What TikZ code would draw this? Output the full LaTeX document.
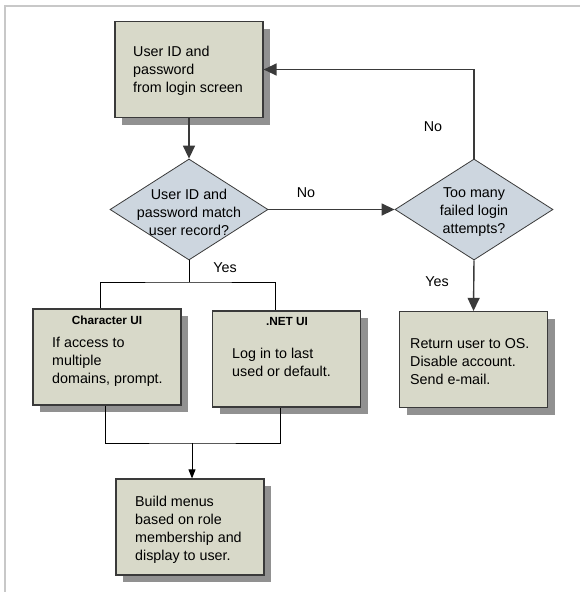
\documentclass[tikz,border=0pt]{standalone}
\usepackage{fontspec}
\setmainfont{Liberation Sans}
\usetikzlibrary{arrows.meta,shapes.geometric,shadows,calc}
\definecolor{boxfill}{HTML}{D8D9C9}
\definecolor{diafill}{HTML}{CDD6DF}
\definecolor{edge}{HTML}{3A3A3A}
\definecolor{frame}{HTML}{C8C8C8}
\begin{document}
\begin{tikzpicture}[x=1pt,y=-1pt,
  every node/.style={font=\fontsize{14.3}{18}\selectfont},
  procbox/.style={draw=edge,line width=1.2pt,fill=boxfill,minimum width=148pt,minimum height=96pt,inner sep=0pt,
    drop shadow={shadow xshift=7pt,shadow yshift=-7pt,fill=black!43,opacity=1}},
  decbox/.style={diamond,draw=edge,line width=0.8pt,fill=diafill,minimum width=158pt,minimum height=101pt,inner sep=0pt},
  body/.style={anchor=west,align=left,inner sep=0pt},
  dtext/.style={align=center,inner sep=0pt},
  title/.style={font=\fontsize{11.8}{14}\selectfont\bfseries,inner sep=0pt},
  lbl/.style={inner sep=0pt},
  flow/.style={draw=edge,line width=1.4pt,-{Triangle[length=13pt,width=12pt]}},
  branch/.style={draw=black,line width=0.9pt},
  smallflow/.style={draw=black,line width=0.9pt,-{Triangle[length=9pt,width=7pt]}}
]
\useasboundingbox (0,0) rectangle (580,592);
\draw[frame,line width=1.5pt] (5,592) -- (5,6) -- (580,6);

% boxes
\node[procbox] (login) at (189,69.5) {};
\node[body] (logintxt) at (133,71) {User ID and\\password\\from login screen};

\node[decbox] (match) at (189,209.5) {};
\node[dtext] (matchtxt) at (189,212) {User ID and\\password match\\user record?};

\node[decbox] (fail) at (474,209.5) {};
\node[dtext] (failtxt) at (474,212) {Too many\\failed login\\attempts?};

\node[procbox] (charui) at (107,357) {};
\node[title] (chartitle) at (107,320) {Character UI};
\node[body] (chartxt) at (52,362) {If access to\\multiple\\domains, prompt.};

\node[procbox] (netui) at (286.5,359) {};
\node[title] (nettitle) at (287,321) {.NET UI};
\node[body] (nettxt) at (232,362) {Log in to last\\used or default.};

\node[procbox] (ret) at (473.5,359.5) {};
\node[body] (rettxt) at (410,362) {Return user to OS.\\Disable account.\\Send e-mail.};

\node[procbox] (menus) at (190,527) {};
\node[body] (menustxt) at (135,530) {Build menus\\based on role\\membership and\\display to user.};

% connectors
\draw[flow] (login.south) -- (match.north);
\draw[flow] (match.east) -- (fail.west);
\draw[flow] (fail.north) |- (login.east);
\draw[flow] (fail.south) -- (ret.north);

\coordinate (j1) at (189,282);
\draw[branch] (match.south) -- (j1);
\draw[branch] ($(charui.north)+(-7,0)$) |- (j1) -| ($(netui.north)+(-11.5,0)$);

\coordinate (j2) at (192,443);
\draw[branch] ($(charui.south)+(-2,0)$) |- (j2) -| ($(netui.south)+(-6.5,0)$);
\draw[smallflow] (j2) -- (j2 |- menus.north);

% labels
\node[lbl] (no1) at (306,193) {No};
\node[lbl] (no2) at (433,127) {No};
\node[lbl] (yes1) at (225,268) {Yes};
\node[lbl] (yes2) at (437,282) {Yes};
\end{tikzpicture}
\end{document}
